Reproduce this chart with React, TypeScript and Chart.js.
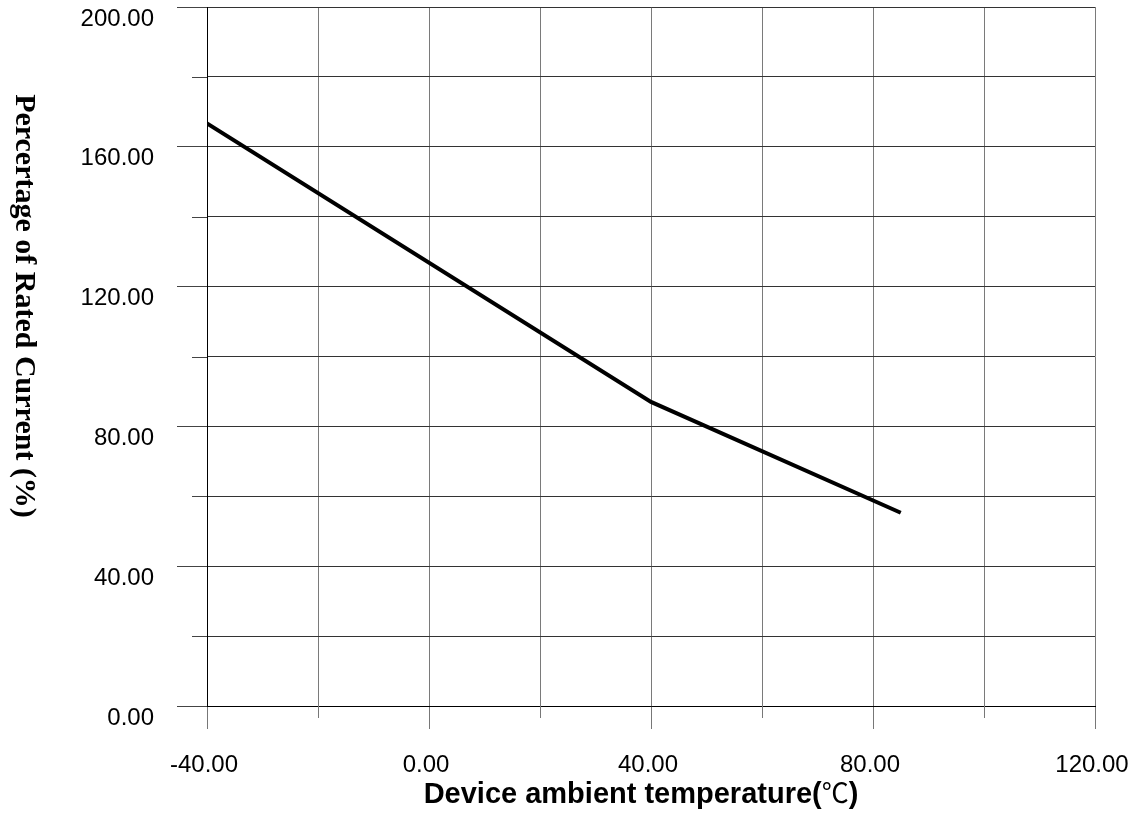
import { useEffect, useRef } from 'react';
import { Chart, registerables } from 'chart.js';

Chart.register(...registerables);

const temperatures = [-40, 40, 85];
const ratedCurrentPct = [166.7, 87.0, 55.3];

const xMin = -40;
const xMax = 120;
const yMin = 0;
const yMax = 200;
const gridStep = 20;
const labelStep = 40;

const xTitleParts = ['Device ambient temperature(', '℃', ')'];
const yTitle = 'Percertage of Rated Current (%)';

const isMajor = (v: number) => Math.abs(v % labelStep) < 1e-9;

const boldSans = 'bold 29px "Liberation Sans", Arial, sans-serif';
const cjkFont = '27px "Noto Sans CJK SC", "Noto Sans CJK JP", sans-serif';

const decorPlugin = {
  id: 'decor',
  afterDraw(chart: any) {
    const { ctx, chartArea, scales } = chart;
    const xs = scales.x;
    const ys = scales.y;
    ctx.save();
    ctx.lineWidth = 1;
    // minor tick stubs
    ctx.strokeStyle = '#777';
    xs.ticks.forEach((t: any) => {
      if (!isMajor(t.value)) {
        const px = Math.round(xs.getPixelForValue(t.value)) + 0.5;
        ctx.beginPath();
        ctx.moveTo(px, chartArea.bottom);
        ctx.lineTo(px, chartArea.bottom + 12);
        ctx.stroke();
      }
    });
    ctx.strokeStyle = '#444';
    ys.ticks.forEach((t: any) => {
      if (!isMajor(t.value)) {
        const py = Math.round(ys.getPixelForValue(t.value)) + 0.5;
        ctx.beginPath();
        ctx.moveTo(chartArea.left - 15, py);
        ctx.lineTo(chartArea.left, py);
        ctx.stroke();
      }
    });

    // x title (℃ drawn in a lighter CJK face, as in the source)
    ctx.fillStyle = '#000';
    ctx.textBaseline = 'alphabetic';
    ctx.textAlign = 'left';
    const fonts = [boldSans, cjkFont, boldSans];
    const widths = xTitleParts.map((p, i) => {
      ctx.font = fonts[i];
      return ctx.measureText(p).width;
    });
    const total = widths.reduce((a, b) => a + b, 0);
    let cx = 641 - total / 2;
    xTitleParts.forEach((p, i) => {
      ctx.font = fonts[i];
      ctx.fillText(p, cx, 803);
      cx += widths[i];
    });

    // y title, reading top to bottom
    ctx.translate(24, 306);
    ctx.rotate(Math.PI / 2);
    ctx.font = 'bold 30px "Liberation Serif", "Times New Roman", serif';
    ctx.textAlign = 'center';
    ctx.textBaseline = 'middle';
    ctx.fillText(yTitle, 0, 0);
    ctx.restore();
  },
};

export default function App() {
  const canvasRef = useRef<HTMLCanvasElement | null>(null);

  useEffect(() => {
    if (!canvasRef.current) return;
    const points = temperatures.map((t, i) => ({ x: t, y: ratedCurrentPct[i] }));
    const chart = new Chart(canvasRef.current, {
      type: 'line',
      data: {
        datasets: [
          {
            data: points,
            borderColor: '#000',
            borderWidth: 4,
            pointRadius: 0,
            tension: 0,
            fill: false,
          },
        ],
      },
      options: {
        animation: false,
        responsive: false,
        events: [],
        layout: { padding: { top: 7, right: 37, left: 0, bottom: 0 } },
        plugins: {
          legend: { display: false },
          tooltip: { enabled: false },
          title: { display: false },
        },
        scales: {
          x: {
            type: 'linear',
            min: xMin,
            max: xMax,
            afterFit: (s: any) => {
              s.height = 108;
              s.paddingLeft = 0;
              s.paddingRight = 0;
            },
            ticks: {
              stepSize: gridStep,
              autoSkip: false,
              maxRotation: 0,
              padding: 22,
              labelOffset: -3,
              color: '#000',
              font: { family: '"Liberation Sans", Arial, sans-serif', size: 24 },
              callback: (v: any) => (isMajor(Number(v)) ? Number(v).toFixed(2) : ''),
            },
            grid: {
              color: (c: any) => (c.tick && c.tick.value === xMin ? '#000' : '#7a7a7a'),
              lineWidth: 1,
              tickLength: 23,
              tickColor: (c: any) => (c.tick && isMajor(c.tick.value) ? '#777' : 'rgba(0,0,0,0)'),
            },
            border: { display: true, color: '#000', width: 1 },
          },
          y: {
            type: 'linear',
            min: yMin,
            max: yMax,
            afterFit: (s: any) => {
              s.width = 207;
              s.paddingTop = 0;
              s.paddingBottom = 0;
            },
            ticks: {
              stepSize: gridStep,
              autoSkip: false,
              padding: 23,
              labelOffset: 12,
              color: '#000',
              font: { family: '"Liberation Sans", Arial, sans-serif', size: 24 },
              callback: (v: any) => (isMajor(Number(v)) ? Number(v).toFixed(2) : ''),
            },
            grid: {
              color: '#333',
              lineWidth: 1,
              tickLength: 30,
              tickColor: (c: any) => (c.tick && isMajor(c.tick.value) ? '#444' : 'rgba(0,0,0,0)'),
            },
            border: { display: true, color: '#000', width: 1 },
          },
        },
      },
      plugins: [decorPlugin],
    });
    return () => chart.destroy();
  }, []);

  return (
    <div style={{ position: 'fixed', left: 0, top: 0, width: 1132, height: 814, background: '#fff' }}>
      <canvas ref={canvasRef} width={1132} height={814} style={{ display: 'block' }} />
    </div>
  );
}
